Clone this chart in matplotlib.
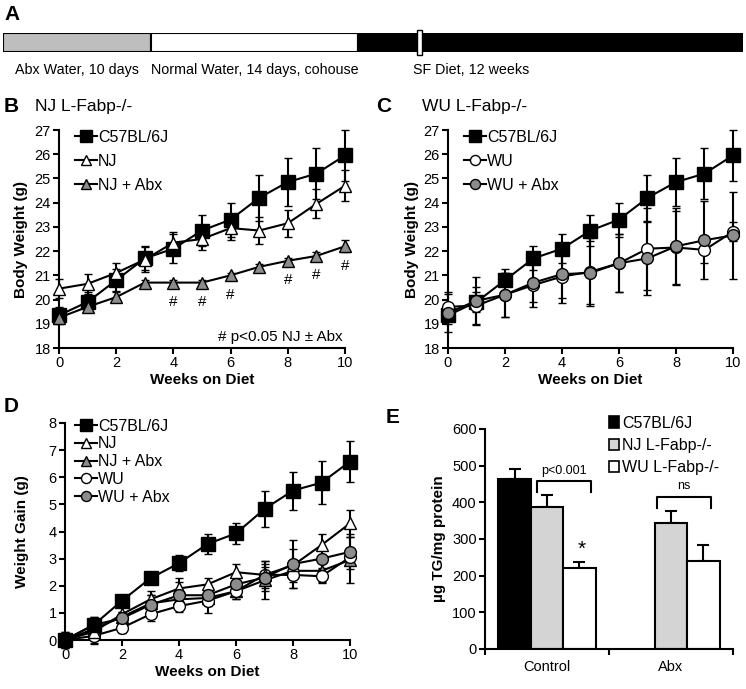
import numpy as np
import matplotlib
matplotlib.use("Agg")
import matplotlib.pyplot as plt
from matplotlib import font_manager
from matplotlib.lines import Line2D
from matplotlib.patches import Patch, Rectangle

plt.rcParams["font.family"] = ["Liberation Sans", "DejaVu Sans"]
plt.rcParams["font.size"] = 10

# ---- data ----
phase_labels = ["Abx Water, 10 days", "Normal Water, 14 days, cohouse", "SF Diet, 12 weeks"]
phase_days = [10, 14, 26]          # last phase drawn truncated (axis break)
break_day = 28

weeks = list(range(11))

b_c57 = [19.35, 19.9, 20.8, 21.7, 22.1, 22.85, 23.3, 24.2, 24.85, 25.2, 25.95]
b_c57_err = [0.35, 0.4, 0.45, 0.5, 0.6, 0.65, 0.7, 0.95, 1.0, 1.05, 1.05]
b_nj = [20.45, 20.65, 21.1, 21.65, 22.35, 22.5, 22.95, 22.85, 23.15, 23.95, 24.7]
b_nj_err = [0.4, 0.4, 0.4, 0.5, 0.45, 0.45, 0.5, 0.55, 0.55, 0.6, 0.65]
b_njabx = [19.25, 19.7, 20.1, 20.7, 20.7, 20.7, 21.0, 21.35, 21.6, 21.8, 22.2]
b_njabx_err = [0.2, 0.15, 0.2, 0.1, 0.1, 0.1, 0.1, 0.1, 0.1, 0.15, 0.25]
sig_weeks = [4, 5, 6, 8, 9, 10]

c_wu = [19.7, 19.75, 20.2, 20.6, 20.95, 21.15, 21.5, 22.1, 22.15, 22.05, 22.8]
c_wu_err = [0.6, 0.75, 0.9, 0.9, 1.1, 1.4, 1.2, 1.7, 1.5, 0.55, 0.4]
c_wuabx = [19.45, 19.95, 20.2, 20.7, 21.05, 21.1, 21.5, 21.7, 22.2, 22.45, 22.65]
c_wuabx_err = [0.8, 1.0, 0.9, 0.8, 1.0, 1.3, 1.2, 1.5, 1.6, 1.6, 1.8]

d_c57 = [0, 0.55, 1.45, 2.28, 2.83, 3.54, 3.93, 4.83, 5.51, 5.8, 6.58]
d_c57_err = [0.3, 0.3, 0.15, 0.2, 0.3, 0.38, 0.4, 0.65, 0.7, 0.8, 0.76]
d_nj = [0, 0.3, 0.95, 1.5, 1.9, 2.05, 2.5, 2.4, 2.75, 3.5, 4.3]
d_nj_err = [0.3, 0.4, 0.3, 0.3, 0.4, 0.25, 0.3, 0.5, 0.6, 0.4, 0.5]
d_njabx = [0, 0.4, 0.85, 1.35, 1.5, 1.55, 1.8, 2.2, 2.55, 2.55, 2.95]
d_njabx_err = [0.2, 0.3, 0.2, 0.3, 0.3, 0.3, 0.3, 0.7, 0.3, 0.4, 0.85]
d_wu = [0, 0.15, 0.45, 0.95, 1.25, 1.45, 1.8, 2.4, 2.4, 2.35, 3.05]
d_wu_err = [0.2, 0.3, 0.2, 0.25, 0.2, 0.45, 0.3, 0.3, 0.5, 0.25, 0.3]
d_wuabx = [0, 0.55, 0.8, 1.3, 1.65, 1.65, 2.05, 2.3, 2.8, 3.0, 3.25]
d_wuabx_err = [0.2, 0.3, 0.25, 0.35, 0.5, 0.35, 0.3, 0.5, 0.9, 0.35, 0.65]

groups = ["Control", "Abx"]
tg_c57 = [465, np.nan]
tg_c57_err = [27, np.nan]
tg_nj = [388, 343]
tg_nj_err = [32, 33]
tg_wu = [220, 241]
tg_wu_err = [18, 42]

# ---- layout helpers ----
W, H = 746, 689
fig = plt.figure(figsize=(W / 100, H / 100), dpi=100)


def px_axes(l, t, r, b):
    return fig.add_axes([l / W, 1 - b / H, (r - l) / W, (b - t) / H])


def style(ax):
    for s in ["top", "right"]:
        ax.spines[s].set_visible(False)
    for s in ["left", "bottom"]:
        ax.spines[s].set_linewidth(1.5)
    ax.tick_params(direction="out", length=4, width=1.5, labelsize=10.5, pad=2)


GRAY = "#8c8c8c"
styles = {
    "C57BL/6J": dict(marker="s", mfc="black", ms=9.5),
    "NJ": dict(marker="^", mfc="white", ms=9),
    "NJ + Abx": dict(marker="^", mfc=GRAY, ms=9),
    "WU": dict(marker="o", mfc="white", ms=8.5),
    "WU + Abx": dict(marker="o", mfc=GRAY, ms=8.5),
}


def series(ax, y, err, name):
    st = styles[name]
    ax.errorbar(weeks, y, yerr=err, fmt="-", color="black", lw=1.5,
                elinewidth=1.5, capsize=3, capthick=1.5,
                marker=st["marker"], mfc=st["mfc"], mec="black",
                mew=1.0, ms=st["ms"], clip_on=False, zorder=3)


def legend(ax, names, spacing, x0, y0):
    hs = [Line2D([], [], color="black", lw=1.5, marker=styles[n]["marker"],
                 mfc=styles[n]["mfc"], mec="black", ms=styles[n]["ms"] * 0.85)
          for n in names]
    ax.legend(hs, names, loc="upper left", bbox_to_anchor=(x0, y0),
              frameon=False, handlelength=1.4, handletextpad=0.05,
              labelspacing=spacing, borderpad=0, borderaxespad=0,
              fontsize=11.5)


# ---- A: timeline ----
installed = {f.name for f in font_manager.fontManager.ttflist}
if "Liberation Sans Narrow" in installed:
    phase_font = dict(family=["Liberation Sans Narrow", "Liberation Sans"], fontsize=11.5)
else:
    phase_font = dict(fontsize=10.3)

axA = px_axes(3, 33, 743, 52)
lefts = np.cumsum([0] + phase_days[:-1])
axA.barh(0, phase_days, left=lefts, height=1, color=["#bebebe", "white", "black"],
         edgecolor="black", linewidth=1.5)
axA.set_xlim(0, sum(phase_days))
axA.set_ylim(-0.5, 0.5)
axA.axis("off")
axA.add_patch(Rectangle((break_day, -0.65), 0.3, 1.3, facecolor="white",
                        edgecolor="black", lw=1.0, clip_on=False, zorder=5))
for lbl, l, d in zip(phase_labels, lefts, phase_days):
    cx = l + d / 2
    if lbl.startswith("SF"):
        cx = l + 7.6
    axA.text(cx, -1.45, lbl, ha="center", va="center", **phase_font)

# ---- B ----
axB = px_axes(59, 130, 345, 348)
style(axB)
series(axB, b_c57, b_c57_err, "C57BL/6J")
series(axB, b_nj, b_nj_err, "NJ")
series(axB, b_njabx, b_njabx_err, "NJ + Abx")
for w in sig_weeks:
    axB.annotate("#", (w, b_njabx[w]), xytext=(0, -14), textcoords="offset points",
                 ha="center", va="center", fontsize=11)
axB.text(9.9, 18.45, "# p<0.05 NJ \u00b1 Abx", ha="right", va="center", fontsize=11)
legend(axB, ["C57BL/6J", "NJ", "NJ + Abx"], 0.55, 0.055, 1.0)

# ---- C ----
axC = px_axes(448, 130, 733, 348)
style(axC)
series(axC, b_c57, b_c57_err, "C57BL/6J")
series(axC, c_wu, c_wu_err, "WU")
series(axC, c_wuabx, c_wuabx_err, "WU + Abx")
legend(axC, ["C57BL/6J", "WU", "WU + Abx"], 0.55, 0.055, 1.0)

for ax, pad in ((axB, 4.5), (axC, 3)):
    ax.set_xlim(0, 10)
    ax.set_ylim(18, 27)
    ax.set_xticks(range(0, 11, 2))
    ax.set_yticks(range(18, 28))
    ax.set_xlabel("Weeks on Diet", fontweight="bold", fontsize=11, labelpad=2)
    ax.set_ylabel("Body Weight (g)", fontweight="bold", fontsize=11, labelpad=pad)

# ---- D ----
axD = px_axes(65, 423, 350, 640)
style(axD)
series(axD, d_njabx, d_njabx_err, "NJ + Abx")
series(axD, d_wu, d_wu_err, "WU")
series(axD, d_nj, d_nj_err, "NJ")
series(axD, d_wuabx, d_wuabx_err, "WU + Abx")
series(axD, d_c57, d_c57_err, "C57BL/6J")
axD.set_xlim(0, 10)
axD.set_ylim(0, 8)
axD.set_xticks(range(0, 11, 2))
axD.set_yticks(range(0, 9))
axD.set_xlabel("Weeks on Diet", fontweight="bold", fontsize=11, labelpad=2)
axD.set_ylabel("Weight Gain (g)", fontweight="bold", fontsize=11, labelpad=14)
legend(axD, ["C57BL/6J", "NJ", "NJ + Abx", "WU", "WU + Abx"], 0.17, 0.035, 1.02)

# ---- E ----
axE = px_axes(485, 429, 733, 649)
style(axE)
centers = np.array([0.5, 1.5])
bw = 0.262
bar_sets = [(tg_c57, tg_c57_err, "black", "C57BL/6J"),
            (tg_nj, tg_nj_err, "#d4d4d4", "NJ L-Fabp-/-"),
            (tg_wu, tg_wu_err, "white", "WU L-Fabp-/-")]
for i, (vals, errs, col, lab) in enumerate(bar_sets):
    xs = centers + (i - 1) * bw
    vals = np.array(vals, dtype=float)
    errs = np.array(errs, dtype=float)
    axE.bar(xs, vals, bw, color=col, edgecolor="black", linewidth=1.5, zorder=2)
    axE.errorbar(xs, vals, yerr=[np.zeros_like(errs), errs], fmt="none",
                 ecolor="black", elinewidth=1.5, capsize=4, capthick=1.5, zorder=1)
axE.set_xlim(0, 2)
axE.set_ylim(0, 600)
axE.set_yticks(range(0, 601, 100))
axE.set_xticks([0, 1, 2])
axE.set_xticklabels([])
axE.set_xticks(centers, minor=True)
axE.set_xticklabels(groups, minor=True)
axE.tick_params(axis="x", which="minor", length=0, labelsize=10.5, pad=8)
axE.set_ylabel("\u00b5g TG/mg protein", fontweight="bold", fontsize=11, labelpad=4)


def bracket(x1, x2, top, leg, label, dy, fs):
    axE.plot([x1, x1, x2, x2], [top - leg, top, top, top - leg], color="black", lw=1.5)
    axE.text((x1 + x2) / 2, top + dy, label, ha="center", va="bottom", fontsize=fs)


bracket(centers[0] - 0.08, centers[0] + bw + 0.09, 458, 30, "p<0.001", 12, 9)
bracket(centers[1] - 0.11, centers[1] + bw + 0.06, 415, 30, "ns", 12, 9)
axE.text(centers[0] + bw + 0.02, tg_wu[0] + tg_wu_err[0] + 8, "*", ha="center",
         va="bottom", fontsize=15)
ph = [Patch(facecolor=c, edgecolor="black", linewidth=1.2) for _, _, c, _ in bar_sets]
axE.legend(ph, [b[3] for b in bar_sets], loc="upper left", bbox_to_anchor=(0.5, 1.06),
           frameon=False, handlelength=0.6, handleheight=0.75, handletextpad=0.2,
           labelspacing=0.45, borderpad=0, borderaxespad=0, fontsize=11.5)

# ---- panel letters and titles ----
for lbl, x, y in [("A", 4, 15), ("B", 4, 107), ("C", 376, 107), ("D", 4, 407), ("E", 386, 417)]:
    fig.text(x / W, 1 - y / H, lbl, fontsize=15, fontweight="bold", ha="left", va="center")
fig.text(35 / W, 1 - 107 / H, "NJ L-Fabp-/-", fontsize=12.5, ha="left", va="center")
fig.text(422 / W, 1 - 107 / H, "WU L-Fabp-/-", fontsize=12.5, ha="left", va="center")

fig.savefig("out.png", dpi=100)
